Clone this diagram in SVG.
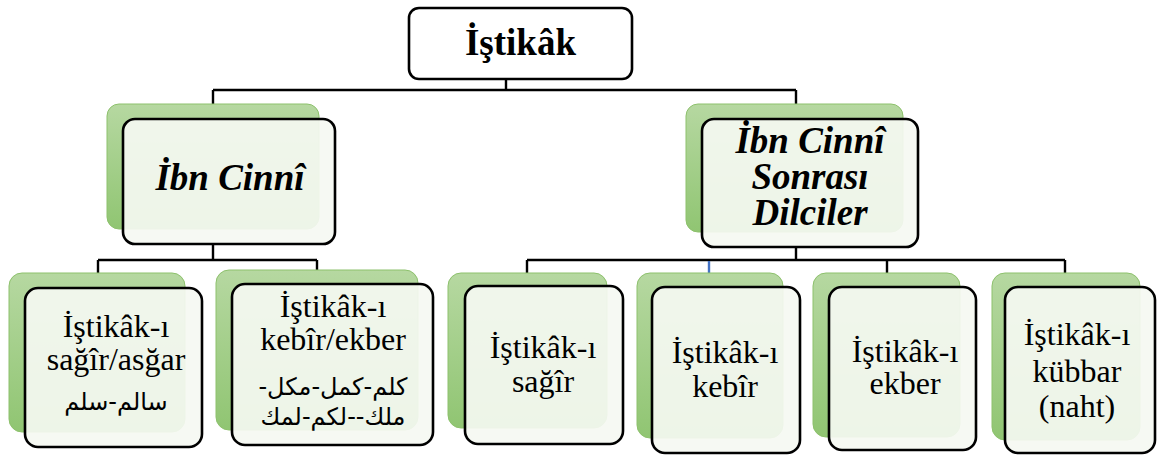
<svg xmlns="http://www.w3.org/2000/svg" width="1157" height="458" viewBox="0 0 1157 458">
  <defs>
    <linearGradient id="greenFill" x1="0" y1="0" x2="0" y2="1">
      <stop offset="0" stop-color="#b6d8a1"/>
      <stop offset="1" stop-color="#90c572"/>
    </linearGradient>
    <style>
      .back { fill: url(#greenFill); stroke: #8dc16c; stroke-width: 1; }
      .front { fill: #f5f9f2; fill-opacity: 0.92; stroke: #000; stroke-width: 2.6; }
      .top { fill: #fff; stroke: #000; stroke-width: 2.6; }
      .link { fill: none; stroke: #000; stroke-width: 2.4; }
      .link-blue { fill: none; stroke: #4472c4; stroke-width: 2.4; }
    </style>
  </defs>

  <!-- connectors -->
  <g id="connectors">
    <path class="link" d="M506 79 V90 M213 90 H796 M213 90 V119 M796 90 V119"/>
    <path class="link" d="M213 244 V260 M98 260 H317 M98 260 V273 M317 260 V271"/>
    <path class="link" d="M796 247 V260 M527 260 H1065 M527 260 V273 M887 260 V273 M1065 260 V273"/>
    <path class="link-blue" d="M709 261 V273"/>
  </g>

  <g font-family="Liberation Serif, Times New Roman, serif" text-anchor="middle" fill="#000">
    <!-- root -->
    <g id="node-root">
      <rect class="top" x="409" y="8" width="223" height="71" rx="10"/>
      <text x="520.5" y="55" font-size="37" font-weight="bold">İştikâk</text>
    </g>

    <!-- second level -->
    <g id="node-ibn-cinni" font-size="37" font-weight="bold" font-style="italic">
      <rect class="back" x="107" y="104" width="212" height="125" rx="12"/>
      <rect class="front" x="123" y="119" width="212" height="125" rx="12"/>
      <text x="230" y="190">İbn Cinnî</text>
    </g>

    <g id="node-sonrasi" font-size="37" font-weight="bold" font-style="italic">
      <rect class="back" x="686" y="104" width="217" height="128" rx="12"/>
      <rect class="front" x="702" y="119" width="216" height="128" rx="12"/>
      <text x="810" y="153">İbn Cinnî</text>
      <text x="810" y="189">Sonrası</text>
      <text x="810" y="225">Dilciler</text>
    </g>

    <!-- leaves -->
    <g id="node-sagir-asgar" font-size="32">
      <rect class="back" x="9" y="273" width="176" height="159" rx="13"/>
      <rect class="front" x="25" y="288" width="177" height="159" rx="13"/>
      <text x="116" y="337">İştikâk-ı</text>
      <text x="116" y="370">sağîr/asğar</text>
      <text x="116" y="410" font-family="DejaVu Sans, sans-serif" font-size="24">سالم-سلم</text>
    </g>

    <g id="node-kebir-ekber" font-size="32">
      <rect class="back" x="216" y="270" width="202" height="160" rx="13"/>
      <rect class="front" x="232" y="284" width="201" height="161" rx="13"/>
      <text x="333" y="317">İştikâk-ı</text>
      <text x="333" y="350">kebîr/ekber</text>
      <text x="333" y="395" font-family="DejaVu Sans, sans-serif" font-size="24">كلم-كمل-مكل-&#x200F;</text>
      <text x="333" y="425" font-family="DejaVu Sans, sans-serif" font-size="24">ملك--لكم-لمك</text>
    </g>

    <g id="node-sagir" font-size="32">
      <rect class="back" x="448" y="273" width="159" height="155" rx="13"/>
      <rect class="front" x="465" y="286" width="158" height="158" rx="13"/>
      <text x="543" y="358">İştikâk-ı</text>
      <text x="543" y="392">sağîr</text>
    </g>

    <g id="node-kebir" font-size="32">
      <rect class="back" x="637" y="273" width="146" height="165" rx="13"/>
      <rect class="front" x="652" y="287" width="148" height="166" rx="13"/>
      <text x="725" y="363">İştikâk-ı</text>
      <text x="725" y="397">kebîr</text>
    </g>

    <g id="node-ekber" font-size="32">
      <rect class="back" x="813" y="273" width="147" height="164" rx="13"/>
      <rect class="front" x="829" y="287" width="147" height="163" rx="13"/>
      <text x="905" y="362">İştikâk-ı</text>
      <text x="905" y="394">ekber</text>
    </g>

    <g id="node-kubbar" font-size="32">
      <rect class="back" x="992" y="273" width="148" height="167" rx="13"/>
      <rect class="front" x="1005" y="287" width="150" height="166" rx="13"/>
      <text x="1077" y="345">İştikâk-ı</text>
      <text x="1077" y="382">kübbar</text>
      <text x="1077" y="417">(naht)</text>
    </g>
  </g>
</svg>
